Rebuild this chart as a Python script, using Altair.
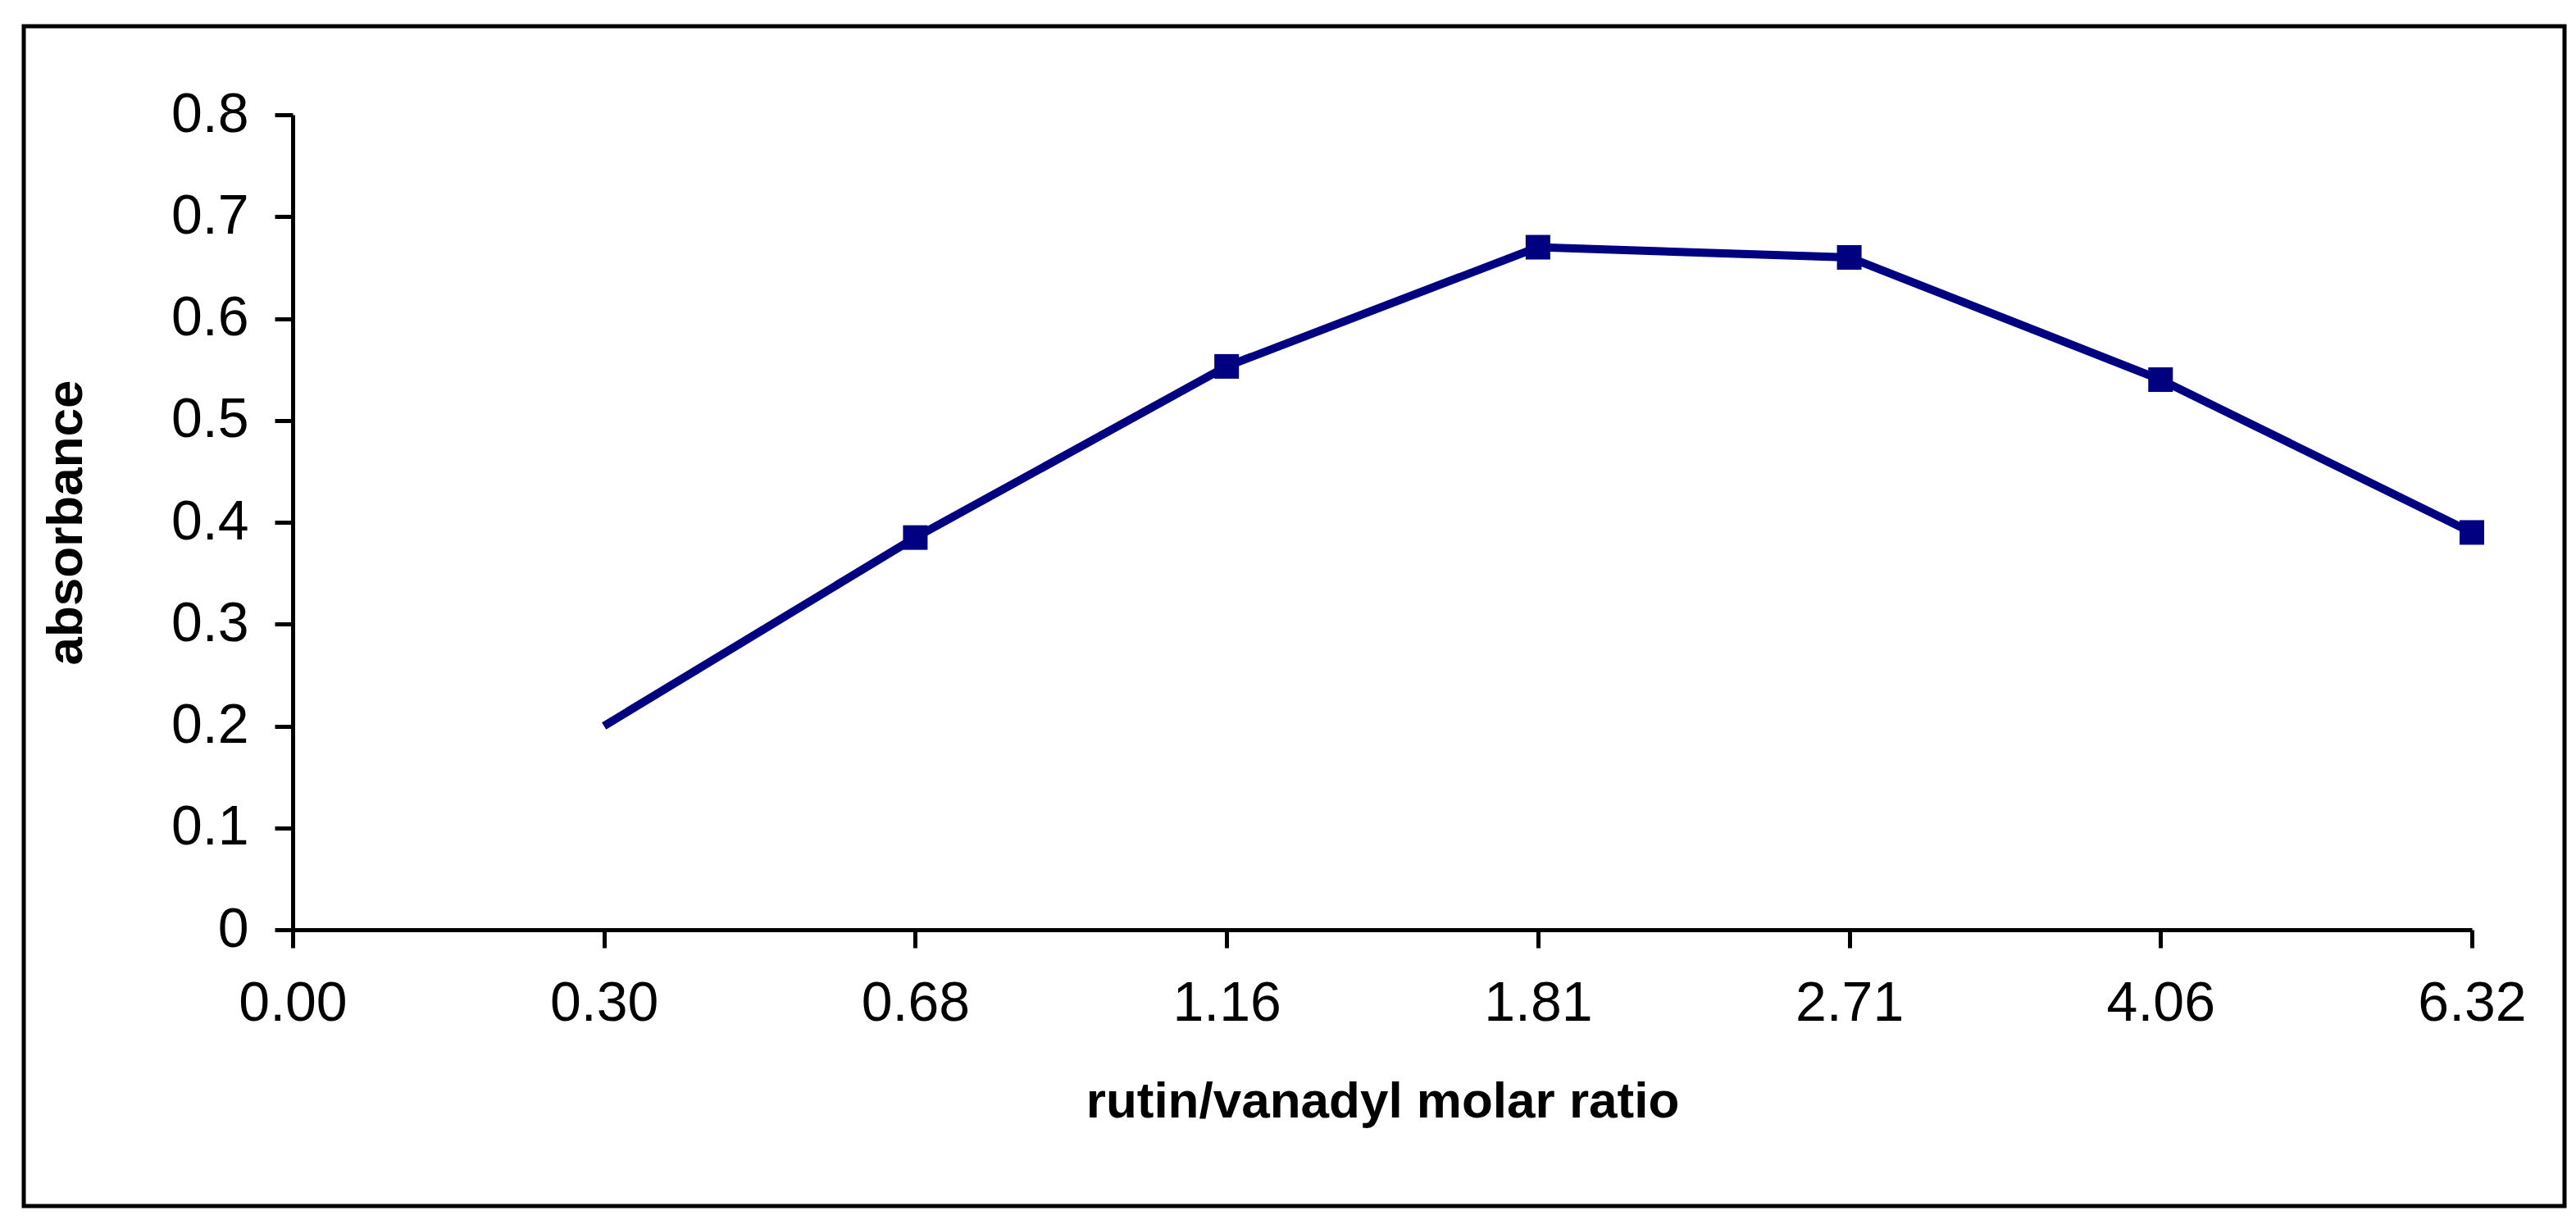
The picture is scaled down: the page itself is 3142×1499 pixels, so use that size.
import altair as alt
import pandas as pd

# Tick categories on the x axis (equally spaced, Excel line-chart style)
categories = ["0.00", "0.30", "0.68", "1.16", "1.81", "2.71", "4.06", "6.32"]
# Measured series
ratio = ["0.30", "0.68", "1.16", "1.81", "2.71", "4.06", "6.32"]
absorbance = [0.20, 0.385, 0.553, 0.670, 0.660, 0.540, 0.390]
has_marker = [False, True, True, True, True, True, True]
y_ticks = [0, 0.1, 0.2, 0.3, 0.4, 0.5, 0.6, 0.7, 0.8]

df = pd.DataFrame({"ratio": ratio, "absorbance": absorbance, "marker": has_marker})

W, H = 2658, 994
NAVY = "#000080"
FONT = "Liberation Sans"

x_enc = alt.X(
    "ratio:O",
    scale=alt.Scale(type="point", domain=categories, padding=0),
    sort=categories,
    axis=alt.Axis(
        title="rutin/vanadyl molar ratio",
        labelAngle=0,
        labelPadding=34,
        titleX=W / 2,
        titleY=209,
        titleBaseline="middle",
        titleAlign="center",
    ),
)
y_enc = alt.Y(
    "absorbance:Q",
    scale=alt.Scale(domain=[0, 0.8], nice=False, zero=True),
    axis=alt.Axis(
        values=y_ticks,
        title="absorbance",
        labelExpr="datum.value == 0 ? '0' : format(datum.value, '.1f')",
        labelPadding=32,
        titleAngle=270,
        titleX=-277,
        titleY=H / 2,
        titleAlign="center",
        titleBaseline="middle",
    ),
)

line = alt.Chart(df).mark_line(color=NAVY, strokeWidth=10).encode(x=x_enc, y=y_enc)
points = (
    alt.Chart(df)
    .transform_filter("datum.marker")
    .mark_square(color=NAVY, size=900, filled=True, opacity=1)
    .encode(x=x_enc, y=y_enc)
)

frame = (
    alt.Chart(pd.DataFrame({"k": [0]}))
    .mark_rect(fillOpacity=0, stroke="black", strokeWidth=5)
    .encode(
        x=alt.value(-328),
        x2=alt.value(2771),
        y=alt.value(-108),
        y2=alt.value(1331),
    )
)

chart = (
    alt.layer(frame, line, points)
    .properties(
        width=W,
        height=H,
        padding={"left": 349, "top": 132, "right": 117, "bottom": 345},
        autosize=alt.AutoSizeParams(type="none"),
        background="white",
    )
    .configure_axis(
        grid=False,
        domainColor="black",
        domainWidth=5,
        tickColor="black",
        tickWidth=5,
        tickSize=22,
        labelFont=FONT,
        labelFontSize=68,
        labelColor="black",
        titleFont=FONT,
        titleFontSize=62,
        titleFontWeight="bold",
        titleColor="black",
    )
    .configure_view(strokeWidth=0)
)

chart.save("out.html", embed_options={"renderer": "svg", "actions": False})
